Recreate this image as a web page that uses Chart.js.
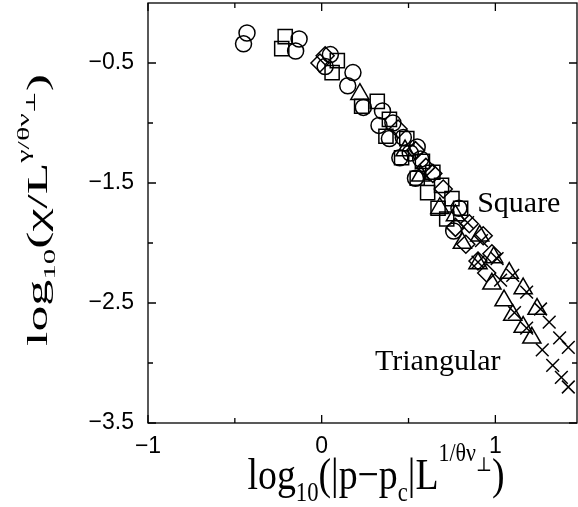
<!DOCTYPE html>
<html>
<head>
<meta charset="utf-8">
<script src="https://cdn.jsdelivr.net/npm/chart.js@4.4.0/dist/chart.umd.min.js"></script>
<style>
  html, body { margin: 0; padding: 0; background: #fff; }
  #wrap { width: 578px; height: 507px; }
</style>
</head>
<body>
<div id="wrap"><canvas id="scaling" width="578" height="507"></canvas></div>
<script>
// scaling collapse, one array pair per marker symbol (both lattices mixed in)
var circleX = [-0.43, -0.45, -0.13, -0.15, 0.05, 0.02, 0.18, 0.15, 0.24, 0.35, 0.33, 0.41, 0.39, 0.47, 0.45, 0.51, 0.55, 0.54, 0.57, 0.79, 0.76];
var circleY = [-0.25, -0.34, -0.30, -0.40, -0.43, -0.53, -0.58, -0.69, -0.87, -0.90, -1.02, -1.00, -1.13, -1.12, -1.29, -1.25, -1.20, -1.46, -1.30, -1.71, -1.90];

var squareX = [-0.21, -0.23, 0.09, 0.06, 0.32, 0.39, 0.23, 0.37, 0.49, 0.46, 0.58, 0.64, 0.55, 0.69, 0.61, 0.75, 0.67, 0.72, 0.80];
var squareY = [-0.28, -0.38, -0.48, -0.58, -0.82, -0.97, -0.86, -1.11, -1.13, -1.29, -1.32, -1.41, -1.46, -1.52, -1.58, -1.63, -1.71, -1.80, -1.71];

var diamondX = [-0.01, 0.02, 0.44, 0.54, 0.60, 0.64, 0.70, 0.77, 0.85, 0.83, 0.93, 0.90, 0.98, 0.95];
var diamondY = [-0.50, -0.44, -1.05, -1.23, -1.37, -1.42, -1.55, -1.87, -1.84, -2.01, -1.94, -2.15, -2.09, -2.25];

var triangleX = [0.22, 0.48, 0.57, 0.68, 0.77, 0.81, 0.91, 0.90, 0.99, 1.08, 1.16, 1.24, 0.98, 1.05, 1.10, 1.16, 1.21];
var triangleY = [-0.76, -1.23, -1.44, -1.71, -1.77, -2.00, -1.94, -2.17, -2.12, -2.25, -2.38, -2.55, -2.34, -2.48, -2.60, -2.70, -2.79];

var crossX = [0.84, 0.92, 1.01, 1.10, 1.18, 1.26, 1.31, 1.37, 1.42, 0.90, 1.03, 1.11, 1.18, 1.27, 1.33, 1.38, 1.42];
var crossY = [-1.83, -1.98, -2.13, -2.27, -2.41, -2.55, -2.66, -2.79, -2.87, -2.16, -2.31, -2.58, -2.71, -2.89, -3.02, -3.12, -3.20];

var xTicks = [-1, 0, 1];
var xMinor = [-0.5, 0.5];
var yTicks = [-3.5, -2.5, -1.5, -0.5];
var yMinor = [-3, -2, -1];

var branchLabels = [
  { text: 'Square', x: 0.895, y: -1.672 },
  { text: 'Triangular', x: 0.307, y: -2.994 }
];

function pts(xs, ys) {
  return xs.map(function (x, i) { return { x: x, y: ys[i] }; });
}

function series(label, xs, ys, style, r) {
  return {
    label: label,
    data: pts(xs, ys),
    pointStyle: style,
    pointRadius: r,
    pointHoverRadius: r,
    borderColor: '#000',
    backgroundColor: 'rgba(0,0,0,0)',
    pointBorderWidth: 1.5,
    showLine: false
  };
}

var serif = '"Liberation Serif", "DejaVu Serif", serif';

// draws text with sub/superscripts; k: n normal, sub, sup, ss (subscript inside superscript)
var sizeOf = { n: 1, sub: 0.6, sup: 0.58, ss: 0.45 };
var rise = { n: 0, sub: 0.27, sup: -0.62, ss: -0.4 };

function richWidth(ctx, parts, size) {
  var w = 0;
  parts.forEach(function (p) {
    ctx.font = (size * sizeOf[p.k]) + 'px ' + serif;
    w += ctx.measureText(p.t).width;
  });
  return w;
}

function drawRich(ctx, parts, size, cx, cy, angle, length, stretch) {
  var w = richWidth(ctx, parts, size);
  ctx.save();
  ctx.translate(cx, cy);
  ctx.rotate(angle);
  ctx.scale(length / w, stretch);
  ctx.fillStyle = '#000';
  ctx.textBaseline = 'alphabetic';
  ctx.textAlign = 'left';
  var x = -w / 2;
  parts.forEach(function (p) {
    ctx.font = (size * sizeOf[p.k]) + 'px ' + serif;
    ctx.fillText(p.t, x, rise[p.k] * size);
    x += ctx.measureText(p.t).width;
  });
  ctx.restore();
}

var xTitle = [
  { t: 'log', k: 'n' }, { t: '10', k: 'sub' }, { t: '(|p\u2212p', k: 'n' }, { t: 'c', k: 'sub' },
  { t: '|L', k: 'n' }, { t: '1/\u03b8\u03bd', k: 'sup' }, { t: '\u22a5', k: 'ss' }, { t: ')', k: 'n' }
];
var yTitle = [
  { t: 'log', k: 'n' }, { t: '10', k: 'sub' }, { t: '(\u03c7/L', k: 'n' },
  { t: '\u03b3/\u03b8\u03bd', k: 'sup' }, { t: '\u22a5', k: 'ss' }, { t: ')', k: 'n' }
];

// frame, inward ticks on all four sides, titles and branch names
var framePlugin = {
  id: 'frame',
  afterDraw: function (chart) {
    var ctx = chart.ctx;
    var a = chart.chartArea;
    var xs = chart.scales.x, ys = chart.scales.y;
    ctx.save();
    ctx.strokeStyle = '#000';
    ctx.lineWidth = 1.3;
    ctx.strokeRect(a.left, a.top, a.right - a.left, a.bottom - a.top);
    ctx.beginPath();
    function xt(v, len) {
      var p = xs.getPixelForValue(v);
      ctx.moveTo(p, a.bottom); ctx.lineTo(p, a.bottom - len);
      ctx.moveTo(p, a.top); ctx.lineTo(p, a.top + len);
    }
    function yt(v, len) {
      var p = ys.getPixelForValue(v);
      ctx.moveTo(a.left, p); ctx.lineTo(a.left + len, p);
      ctx.moveTo(a.right, p); ctx.lineTo(a.right - len, p);
    }
    xTicks.forEach(function (v) { xt(v, 8); });
    xMinor.forEach(function (v) { xt(v, 5); });
    yTicks.forEach(function (v) { yt(v, 8); });
    yMinor.forEach(function (v) { yt(v, 5); });
    ctx.stroke();

    ctx.fillStyle = '#000';
    ctx.font = '30px ' + serif;
    ctx.textAlign = 'left';
    ctx.textBaseline = 'middle';
    branchLabels.forEach(function (l) {
      ctx.fillText(l.text, xs.getPixelForValue(l.x), ys.getPixelForValue(l.y));
    });
    ctx.restore();

    drawRich(ctx, xTitle, 33, 376, 489, 0, 257, 1.35);
    drawRich(ctx, yTitle, 29, 47, 210, -Math.PI / 2, 272, 1);
  }
};

var tickFont = { family: '"Liberation Sans", Arial, sans-serif', size: 23 };

function minus(v) { return String(v).replace('-', '\u2212'); }

new Chart(document.getElementById('scaling'), {
  type: 'scatter',
  data: {
    datasets: [
      series('circle', circleX, circleY, 'circle', 8),
      series('square', squareX, squareY, 'rect', 10),
      series('diamond', diamondX, diamondY, 'rectRot', 9),
      series('triangle', triangleX, triangleY, 'triangle', 10.5),
      series('cross', crossX, crossY, 'crossRot', 9)
    ]
  },
  options: {
    responsive: false,
    animation: false,
    layout: { autoPadding: false, padding: { top: 3, right: 1, left: 0, bottom: 0 } },
    plugins: {
      legend: { display: false },
      tooltip: { enabled: false }
    },
    scales: {
      x: {
        type: 'linear',
        min: -1,
        max: 1.47,
        grid: { display: false, drawTicks: false },
        border: { display: false },
        afterBuildTicks: function (s) { s.ticks = xTicks.map(function (v) { return { value: v }; }); },
        afterFit: function (s) { s.height = 84; s.paddingLeft = 0; s.paddingRight = 0; },
        ticks: { color: '#000', font: tickFont, padding: 10, maxRotation: 0, callback: minus }
      },
      y: {
        type: 'linear',
        min: -3.5,
        max: 0,
        grid: { display: false, drawTicks: false },
        border: { display: false },
        afterBuildTicks: function (s) { s.ticks = yTicks.map(function (v) { return { value: v }; }); },
        afterFit: function (s) { s.width = 148; s.paddingTop = 0; s.paddingBottom = 0; },
        ticks: { color: '#000', font: tickFont, padding: 14, callback: minus }
      }
    }
  },
  plugins: [framePlugin]
});
</script>
</body>
</html>
